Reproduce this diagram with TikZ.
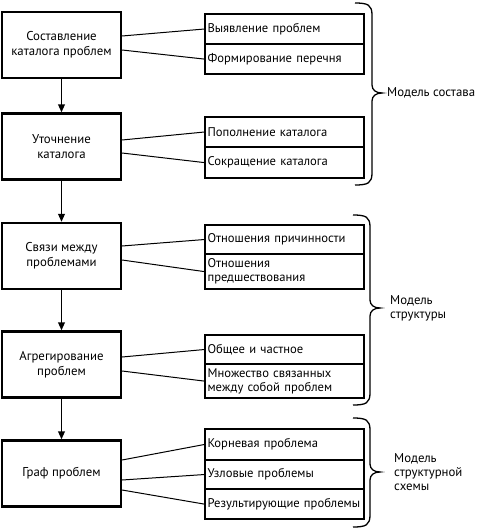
\documentclass[tikz,border=0pt]{standalone}
\usepackage{fontspec}
\setmainfont{PT Sans}
\usetikzlibrary{arrows.meta}
\tikzset{
  lbox/.style={draw, line width=2.1pt, minimum width=119pt, minimum height=66pt, align=center, inner sep=0pt, font=\fontsize{12.8}{15}\selectfont},
  rbox/.style={draw, line width=2.1pt, minimum width=159pt, anchor=north west, align=left, text width=154pt, inner xsep=2.5pt, inner ysep=0pt, font=\fontsize{12.6}{14}\selectfont},
  conn/.style={line width=1pt},
  flow/.style={line width=1.8pt, -{Triangle[length=8pt,width=6.5pt]}},
  bracel/.style={line width=1.3pt},
  blabel/.style={anchor=west, align=left, font=\fontsize{12.8}{14}\selectfont, inner sep=0pt}
}
\newcommand{\mybrace}[4]{% x0, top, bottom, mid
  \draw[bracel] (#1,#2) .. controls (#1+13,#2) and (#1+17,#2+2) .. (#1+17,#2+12)
    -- (#1+17,#4-8) .. controls (#1+17,#4-3) and (#1+21,#4) .. (#1+27,#4)
    .. controls (#1+21,#4) and (#1+17,#4+3) .. (#1+17,#4+8)
    -- (#1+17,#3-12) .. controls (#1+17,#3-2) and (#1+13,#3) .. (#1,#3);}
\begin{document}
\begin{tikzpicture}[x=1pt,y=-1pt]
\useasboundingbox (0,0) rectangle (481,530);
% left boxes
\node[lbox] (l1) at (61.5,45) {Составление\\каталога проблем};
\node[lbox] (l2) at (61.5,146.5) {Уточнение\\каталога};
\node[lbox] (l3) at (61.5,256) {Связи между\\проблемами};
\node[lbox] (l4) at (61.5,364.5) {Агрегирование\\проблем};
\node[lbox] (l5) at (61.5,473.5) {Граф проблем};
% arrows
\draw[flow] (l1) -- (l2);
\draw[flow] (l2) -- (l3);
\draw[flow] (l3) -- (l4);
\draw[flow] (l4) -- (l5);
% right boxes
\node[rbox, minimum height=30pt] (r11) at (204,13) {Выявление проблем};
\node[rbox, minimum height=30pt] (r12) at (204,43) {Формирование перечня};
\node[rbox, minimum height=30pt] (r21) at (204,116) {Пополнение каталога};
\node[rbox, minimum height=31pt] (r22) at (204,146) {Сокращение каталога};
\node[rbox, minimum height=29pt] (r31) at (204,224) {Отношения причинности};
\node[rbox, minimum height=35pt] (r32) at (204,253) {Отношения\\предшествования};
\node[rbox, minimum height=29pt] (r41) at (204,334) {Общее и частное};
\node[rbox, minimum height=34pt] (r42) at (204,363) {Множество связанных\\между собой проблем};
\node[rbox, minimum height=31pt] (r51) at (204,428) {Корневая проблема};
\node[rbox, minimum height=29pt] (r52) at (204,459) {Узловые проблемы};
\node[rbox, minimum height=30pt] (r53) at (204,488) {Результирующие проблемы};
% connectors
\draw[conn] ([yshift=9pt]l1.east) -- (r11.west);
\draw[conn] ([yshift=-5pt]l1.east) -- (r12.west);
\draw[conn] ([yshift=6.5pt]l2.east) -- (r21.west);
\draw[conn] ([yshift=-6.5pt]l2.east) -- (r22.west);
\draw[conn] ([yshift=10pt]l3.east) -- (r31.west);
\draw[conn] ([yshift=-4pt]l3.east) -- (r32.west);
\draw[conn] ([yshift=7.5pt]l4.east) -- (r41.west);
\draw[conn] ([yshift=-6.5pt]l4.east) -- (r42.west);
\draw[conn] ([yshift=13.5pt]l5.east) -- (r51.west);
\draw[conn] ([yshift=-6.5pt]l5.east) -- (r52.west);
\draw[conn] ([yshift=-16.5pt]l5.east) -- (r53.west);
% braces
\mybrace{355}{3}{185}{93}
\mybrace{353}{215}{405}{308}
\mybrace{353}{418}{527}{472}
\node[blabel] (m1) at (387,93) {Модель состава};
\node[blabel] (m2) at (390,308) {Модель\\структуры};
\node[blabel] (m3) at (394,472) {Модель\\структурной\\схемы};
\end{tikzpicture}
\end{document}
